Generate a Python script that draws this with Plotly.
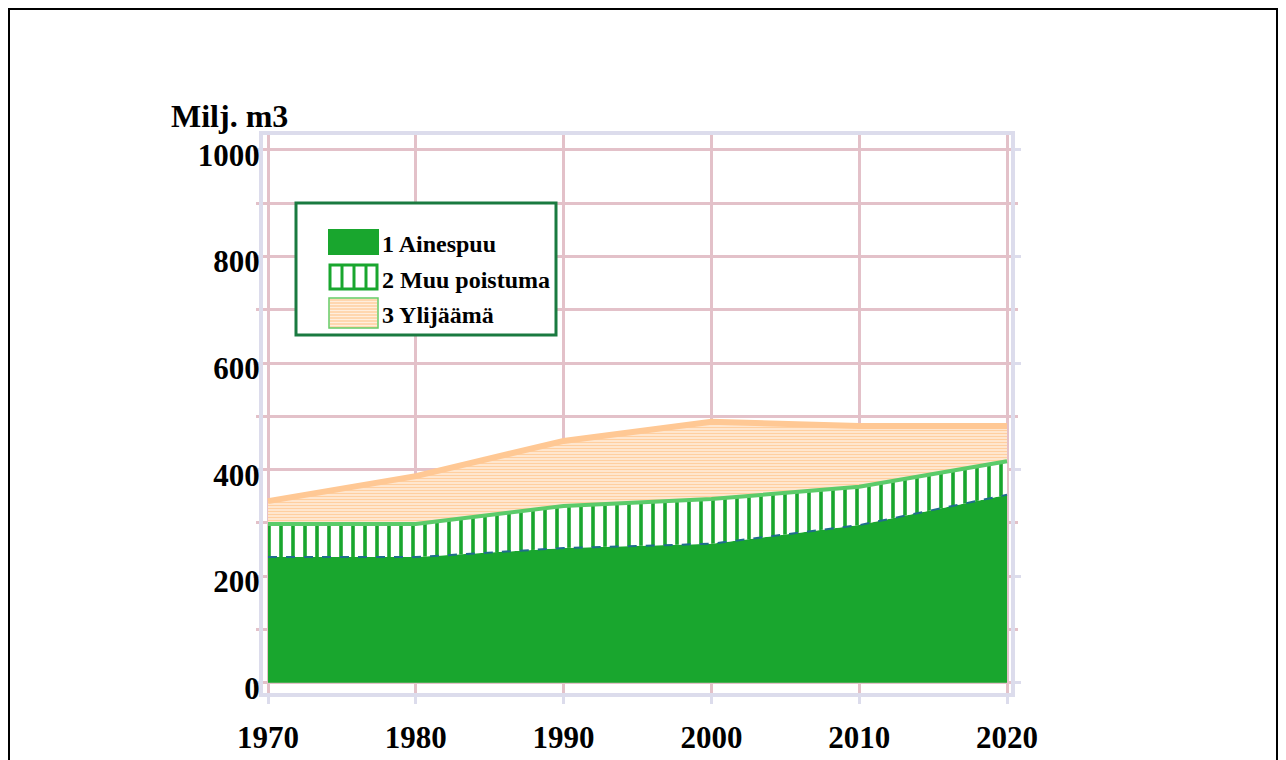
import plotly.graph_objects as go

years = [1970, 1980, 1990, 2000, 2010, 2020]
ainespuu = [236, 236, 253, 261, 296, 353]
muu_poistuma = [62, 62, 79, 84, 72, 63]
ylijaama = [43, 90, 122, 145, 114, 66]
names = ["1 Ainespuu", "2 Muu poistuma", "3 Ylijäämä"]
y_ticks = [0, 200, 400, 600, 800, 1000]

FONT = "Liberation Serif"
GRID = "#E3C1C9"
FRAME = "#DCDCEC"
GREEN = "#19A62E"
LIGHT_GREEN = "#5BCB6A"
ORANGE = "#FFC894"

# page has an 8px body margin; plot area in screen px: 263..1011 x 135..693
W, H = 1270, 800
L, R, T, B = 255, 267, 127, 115
PW, PH = W - L - R, H - T - B


def px(sx):
    return (sx - 8 - L) / PW


def py(sy):
    return (H - B - (sy - 8)) / PH


fig = go.Figure()
fig.add_trace(go.Scatter(
    x=years, y=ainespuu, name=names[0], stackgroup="one",
    line=dict(color="#1F6E8C", width=2, dash="dash"),
    fillcolor=GREEN,
))
fig.add_trace(go.Scatter(
    x=years, y=muu_poistuma, name=names[1], stackgroup="one",
    line=dict(color=LIGHT_GREEN, width=4),
    fillpattern=dict(shape="|", fgcolor=GREEN, bgcolor="white",
                     fgopacity=1, size=12, solidity=0.3),
))
fig.add_trace(go.Scatter(
    x=years, y=ylijaama, name=names[2], stackgroup="one",
    line=dict(color=ORANGE, width=6),
    fillpattern=dict(shape="-", fgcolor="#FFCFA0", bgcolor="#FFEEDD",
                     fgopacity=1, size=3, solidity=0.5),
))

# hand-drawn legend (box, swatches, labels)
shapes = [
    dict(type="rect", xref="paper", yref="paper",
         x0=px(9), x1=px(1277), y0=py(850), y1=py(9),
         line=dict(color="black", width=2), layer="below"),
    dict(type="rect", xref="paper", yref="paper",
         x0=px(296), x1=px(556), y0=py(335), y1=py(203),
         line=dict(color="#1A7A40", width=3), fillcolor="white", layer="above"),
    dict(type="rect", xref="paper", yref="paper",
         x0=px(328), x1=px(379), y0=py(255), y1=py(229),
         line=dict(width=0), fillcolor=GREEN, layer="above"),
    dict(type="rect", xref="paper", yref="paper",
         x0=px(330), x1=px(377), y0=py(289), y1=py(265),
         line=dict(color=GREEN, width=3), fillcolor="white", layer="above"),
]
for sx in (342, 354, 366):
    shapes.append(dict(type="line", xref="paper", yref="paper",
                       x0=px(sx), x1=px(sx), y0=py(289), y1=py(265),
                       line=dict(color=GREEN, width=3), layer="above"))
shapes.append(dict(type="rect", xref="paper", yref="paper",
                   x0=px(329), x1=px(378), y0=py(328), y1=py(298),
                   line=dict(width=0), fillcolor="#FFEEDD", layer="above"))
stripes = " ".join(
    f"M{px(330)},{py(sy)} L{px(377)},{py(sy)}" for sy in range(300, 328, 3)
)
shapes.append(dict(type="path", xref="paper", yref="paper", path=stripes,
                   line=dict(color="#FFCFA0", width=1.5), layer="above"))
shapes.append(dict(type="rect", xref="paper", yref="paper",
                   x0=px(329), x1=px(378), y0=py(328), y1=py(298),
                   line=dict(color="#66CC66", width=1.5), layer="above"))

annotations = [
    dict(text="Milj. m3", xref="paper", yref="paper",
         x=px(169), y=py(116), xanchor="left", yanchor="middle",
         showarrow=False, font=dict(family=FONT, size=32, weight="bold")),
]
for name, sy in zip(names, (244, 280, 315)):
    annotations.append(dict(
        text=name, xref="paper", yref="paper", x=px(380), y=py(sy),
        xanchor="left", yanchor="middle", showarrow=False,
        font=dict(family=FONT, size=24, weight="bold")))

fig.update_layout(
    width=W, height=H,
    margin=dict(l=L, r=R, t=T, b=B),
    plot_bgcolor="white", paper_bgcolor="white",
    font=dict(family=FONT, color="black"),
    showlegend=False,
    shapes=shapes,
    annotations=annotations,
)

fig.update_xaxes(
    range=[1969.66, 2020.27], tickvals=years, automargin=False,
    showgrid=True, gridcolor=GRID, gridwidth=3,
    showline=True, linecolor=FRAME, linewidth=4, mirror=True,
    ticks="outside", tickcolor=FRAME, ticklen=7, tickwidth=3,
    zeroline=False, ticklabelstandoff=7,
    tickfont=dict(family=FONT, size=31, weight="bold"),
)
fig.update_yaxes(
    range=[-19, 1028], tickvals=y_ticks, automargin=False,
    showgrid=True, gridcolor=GRID, gridwidth=3,
    minor=dict(dtick=100, showgrid=True, gridcolor=GRID, gridwidth=3,
               ticks="outside", ticklen=3, tickcolor=GRID),
    showline=True, linecolor=FRAME, linewidth=4, mirror="ticks",
    ticks="outside", tickcolor=FRAME, ticklen=6, tickwidth=3,
    zeroline=False, ticklabelstandoff=-13, ticklabelshift=5,
    tickfont=dict(family=FONT, size=31, weight="bold"),
)

fig.write_html("out.html")
